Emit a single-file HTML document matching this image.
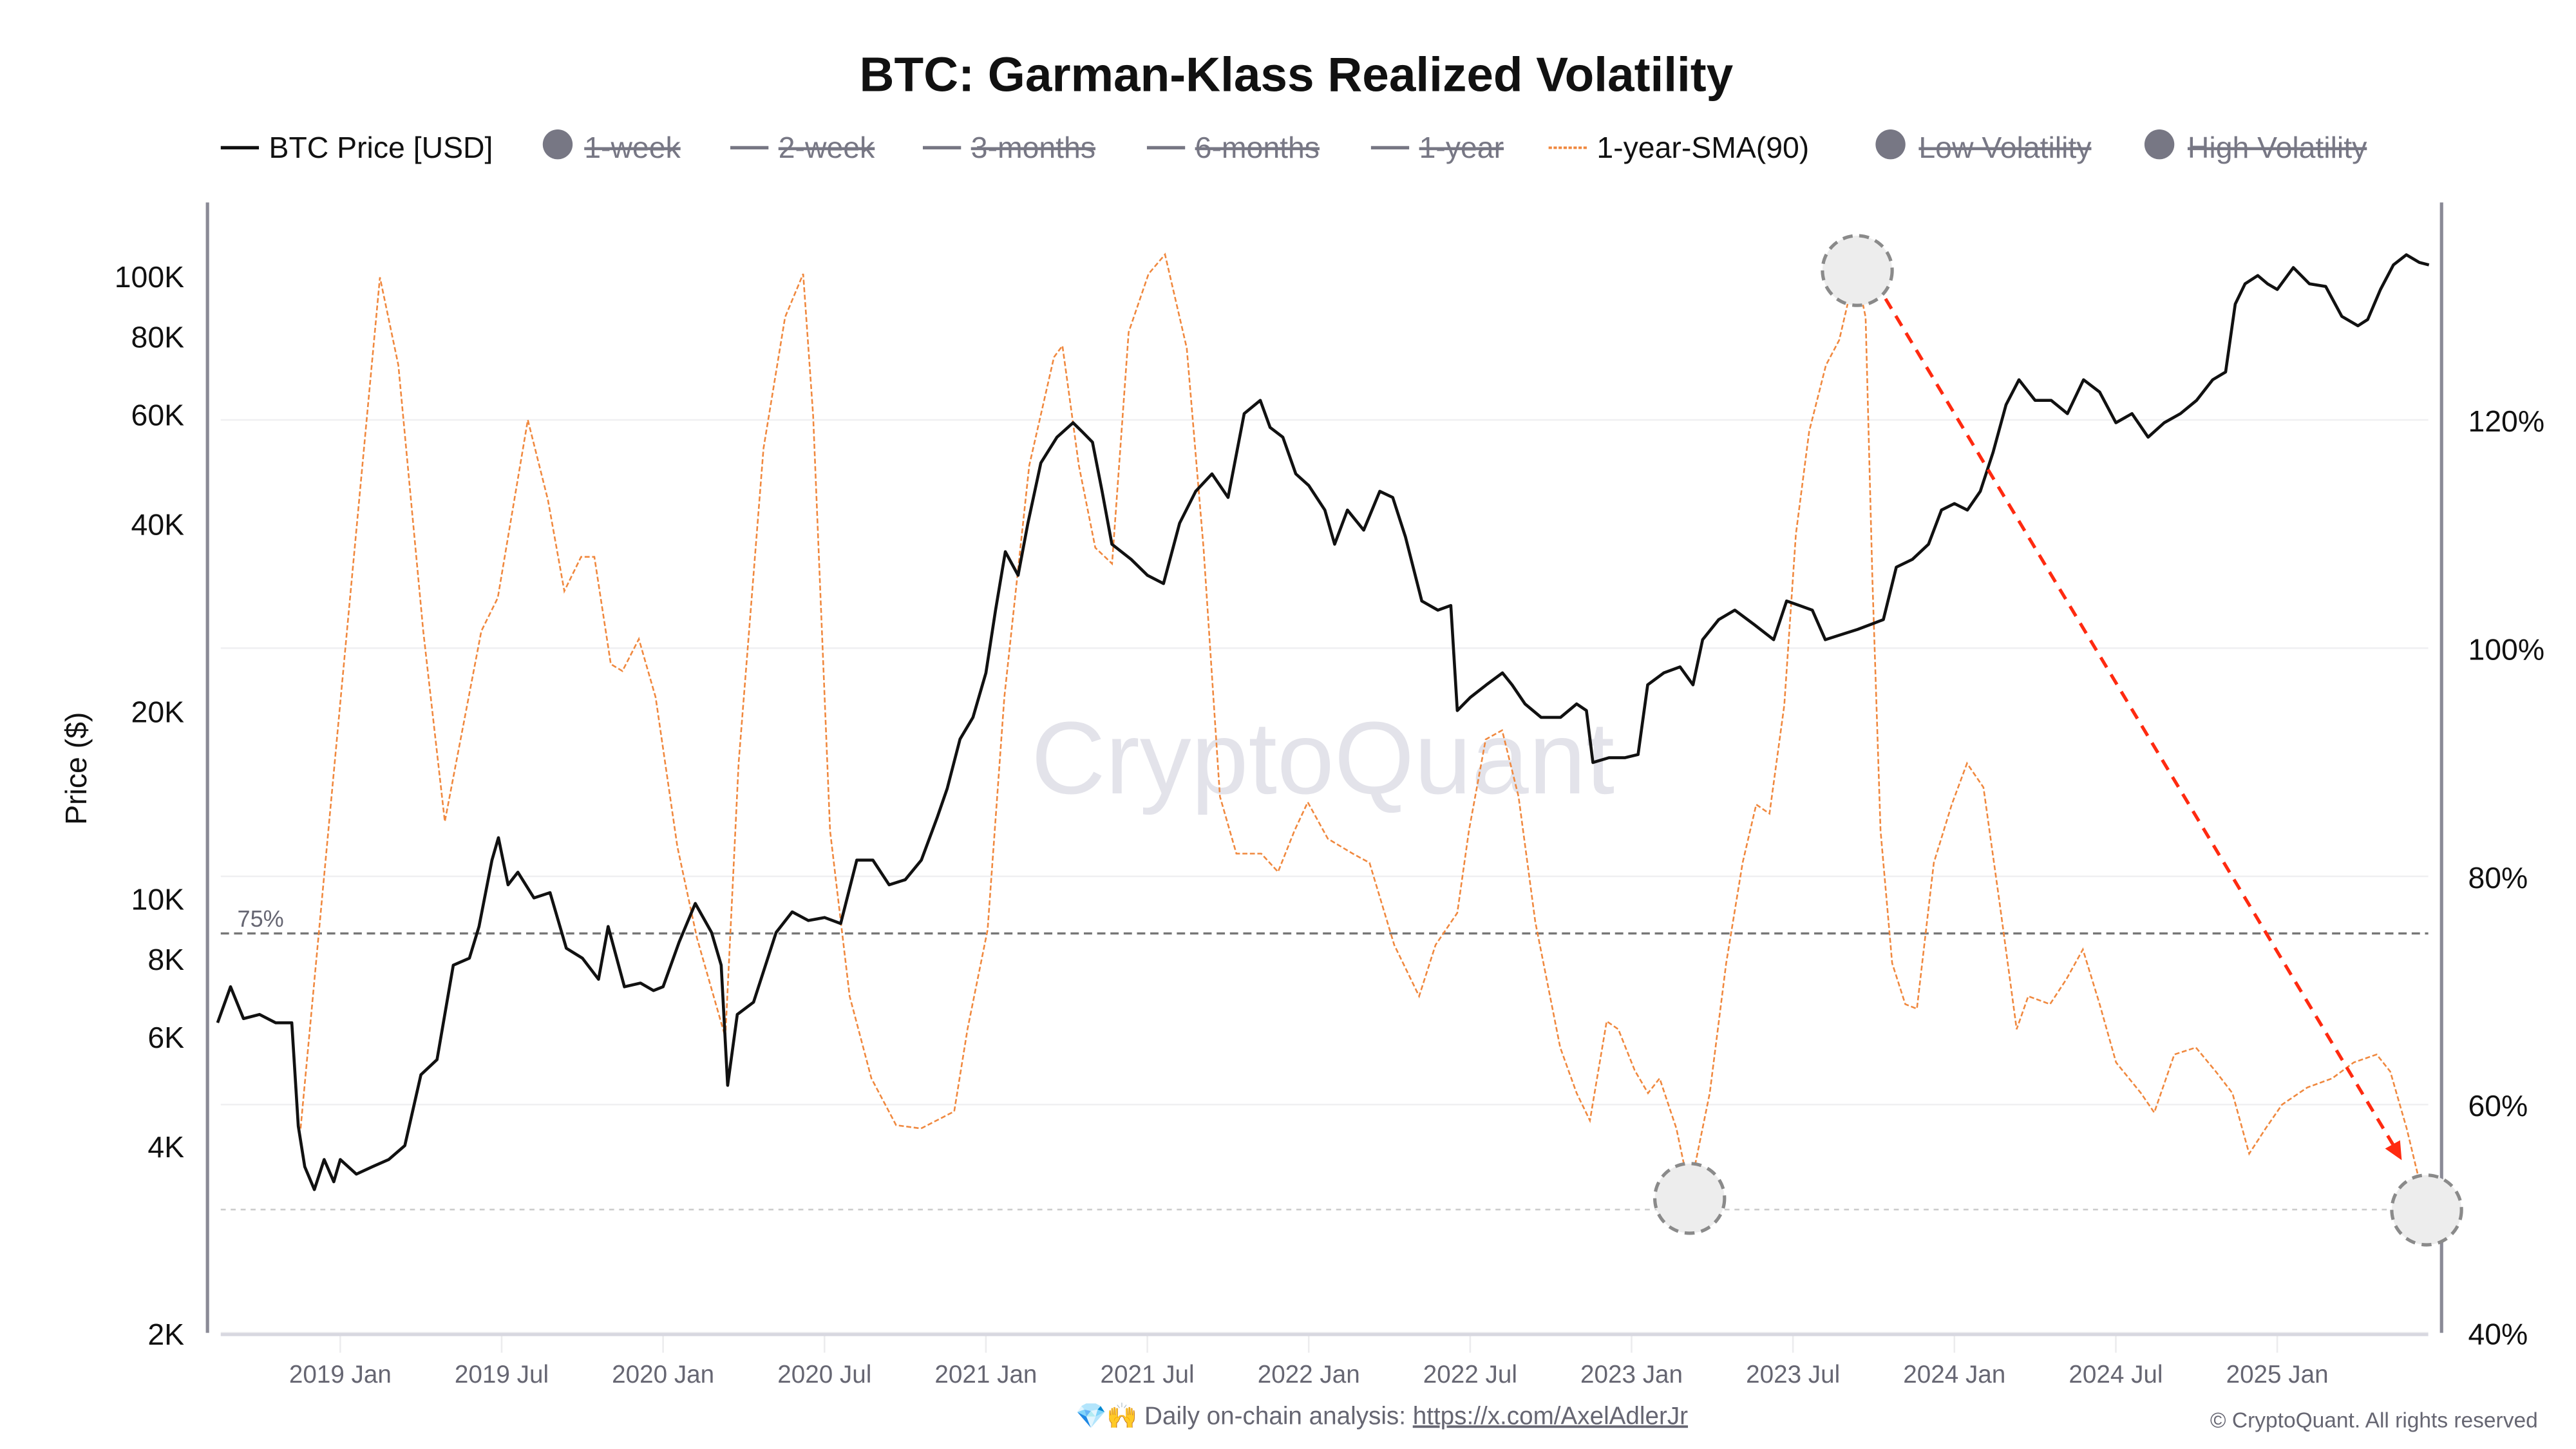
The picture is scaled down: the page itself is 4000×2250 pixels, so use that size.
<!DOCTYPE html>
<html><head><meta charset="utf-8"><style>
html,body{margin:0;padding:0;background:#fff}
svg{display:block}
text{font-family:"Liberation Sans","Noto Sans CJK SC",sans-serif}
</style></head><body>
<svg id="chart" width="4000" height="2250" viewBox="0 0 1552 873" xmlns="http://www.w3.org/2000/svg">
<rect width="1552" height="873" fill="#fff"/>
<text x="781" y="55" text-anchor="middle" font-size="29" font-weight="bold" fill="#111">BTC: Garman-Klass Realized Volatility</text>
<g id="legend" font-size="18">
  <g><line x1="133" y1="89" x2="156" y2="89" stroke="#111" stroke-width="2"/><text x="162" y="95" fill="#111">BTC Price [USD]</text></g>
  <g><circle cx="336" cy="87" r="9" fill="#777784"/><text x="352" y="95" fill="#777784" text-decoration="line-through">1-week</text></g>
  <g><line x1="440" y1="89" x2="463" y2="89" stroke="#777784" stroke-width="2"/><text x="469" y="95" fill="#777784" text-decoration="line-through">2-week</text></g>
  <g><line x1="556" y1="89" x2="579" y2="89" stroke="#777784" stroke-width="2"/><text x="585" y="95" fill="#777784" text-decoration="line-through">3-months</text></g>
  <g><line x1="691" y1="89" x2="714" y2="89" stroke="#777784" stroke-width="2"/><text x="720" y="95" fill="#777784" text-decoration="line-through">6-months</text></g>
  <g><line x1="826" y1="89" x2="849" y2="89" stroke="#777784" stroke-width="2"/><text x="855" y="95" fill="#777784" text-decoration="line-through">1-year</text></g>
  <g><line x1="933" y1="89" x2="956" y2="89" stroke="#f0883e" stroke-width="1.5" stroke-dasharray="2,1"/><text x="962" y="95" fill="#111">1-year-SMA(90)</text></g>
  <g><circle cx="1139" cy="87" r="9" fill="#777784"/><text x="1156" y="95" fill="#777784" text-decoration="line-through">Low Volatility</text></g>
  <g><circle cx="1301" cy="87" r="9" fill="#777784"/><text x="1318" y="95" fill="#777784" text-decoration="line-through">High Volatility</text></g>
</g>
<g id="grid"></g>
<text x="797" y="478" text-anchor="middle" font-size="62" fill="#e3e3ea">CryptoQuant</text>
<g id="axes"></g>
<g id="series"></g>
<g id="annotations">
  <circle cx="1119" cy="163" r="21" fill="#ededed" stroke="#8a8a8a" stroke-width="2" stroke-dasharray="6,4"/>
  <circle cx="1018" cy="722" r="21" fill="#ededed" stroke="#8a8a8a" stroke-width="2" stroke-dasharray="6,4"/>
  <circle cx="1462" cy="729" r="21" fill="#ededed" stroke="#8a8a8a" stroke-width="2" stroke-dasharray="6,4"/>
  <line x1="1136" y1="180" x2="1442" y2="690" stroke="#ff2a10" stroke-width="2" stroke-dasharray="7,5"/>
  <polygon points="1447,699 1437,692 1446,687" fill="#ff2a10"/>
</g>
<text transform="translate(52,463) rotate(-90)" text-anchor="middle" font-size="18" fill="#111">Price ($)</text>
<text x="648" y="858" font-size="15" fill="#666672">💎🙌 Daily on-chain analysis: <tspan text-decoration="underline">https://x.com/AxelAdlerJr</tspan></text>
<text x="1529" y="860" text-anchor="end" font-size="13" fill="#666672">© CryptoQuant. All rights reserved</text>
</svg>
<script>
const priceT=[2018.62,2018.66,2018.70,2018.75,2018.80,2018.85,2018.87,2018.89,2018.92,2018.95,2018.98,2019.0,2019.05,2019.1,2019.15,2019.2,2019.25,2019.3,2019.35,2019.4,2019.43,2019.47,2019.49,2019.52,2019.55,2019.6,2019.65,2019.7,2019.75,2019.8,2019.83,2019.88,2019.93,2019.97,2020.0,2020.05,2020.1,2020.15,2020.18,2020.2,2020.23,2020.28,2020.35,2020.4,2020.45,2020.5,2020.55,2020.6,2020.65,2020.7,2020.75,2020.8,2020.85,2020.88,2020.92,2020.96,2021.0,2021.03,2021.06,2021.1,2021.13,2021.17,2021.22,2021.27,2021.3,2021.33,2021.36,2021.39,2021.45,2021.5,2021.55,2021.6,2021.65,2021.7,2021.75,2021.8,2021.85,2021.88,2021.92,2021.96,2022.0,2022.05,2022.08,2022.12,2022.17,2022.22,2022.26,2022.3,2022.35,2022.4,2022.44,2022.46,2022.5,2022.55,2022.6,2022.63,2022.67,2022.72,2022.78,2022.83,2022.86,2022.88,2022.93,2022.98,2023.02,2023.05,2023.1,2023.15,2023.19,2023.22,2023.27,2023.32,2023.38,2023.44,2023.48,2023.52,2023.56,2023.6,2023.65,2023.7,2023.74,2023.78,2023.82,2023.87,2023.92,2023.96,2024.0,2024.04,2024.08,2024.12,2024.16,2024.2,2024.25,2024.3,2024.35,2024.4,2024.45,2024.5,2024.55,2024.6,2024.65,2024.7,2024.75,2024.8,2024.84,2024.87,2024.9,2024.94,2024.97,2025.0,2025.05,2025.1,2025.15,2025.2,2025.25,2025.28,2025.32,2025.36,2025.4,2025.44,2025.47];
const priceV=[6300,7200,6400,6500,6300,6300,4300,3700,3400,3800,3500,3800,3600,3700,3800,4000,5200,5500,7800,8000,9000,11500,12500,10500,11000,10000,10200,8300,8000,7400,9000,7200,7300,7100,7200,8500,9800,8800,7800,5000,6500,6800,8800,9500,9200,9300,9100,11500,11500,10500,10700,11500,13500,15000,18000,19500,23000,29000,36000,33000,40000,50000,55000,58000,56000,54000,45000,37000,35000,33000,32000,40000,45000,48000,44000,60000,63000,57000,55000,48000,46000,42000,37000,42000,39000,45000,44000,38000,30000,29000,29500,20000,21000,22000,23000,22000,20500,19500,19500,20500,20000,16500,16800,16800,17000,22000,23000,23500,22000,26000,28000,29000,27500,26000,30000,29500,29000,26000,26500,27000,27500,28000,34000,35000,37000,42000,43000,42000,45000,52000,62000,68000,63000,63000,60000,68000,65000,58000,60000,55000,58000,60000,63000,68000,70000,90000,97000,100000,97000,95000,103000,97000,96000,86000,83000,85000,95000,104000,108000,105000,104000];
const volT=[2018.877,2019.123,2019.180,2019.257,2019.324,2019.437,2019.488,2019.581,2019.643,2019.694,2019.746,2019.787,2019.838,2019.874,2019.925,2019.977,2020.044,2020.105,2020.193,2020.234,2020.311,2020.378,2020.434,2020.465,2020.517,2020.578,2020.645,2020.722,2020.799,2020.902,2020.943,2021.005,2021.057,2021.134,2021.211,2021.237,2021.288,2021.339,2021.391,2021.442,2021.504,2021.555,2021.622,2021.674,2021.725,2021.776,2021.853,2021.905,2021.956,2021.997,2022.059,2022.136,2022.188,2022.265,2022.342,2022.393,2022.460,2022.496,2022.548,2022.599,2022.650,2022.702,2022.779,2022.830,2022.871,2022.923,2022.959,2023.010,2023.051,2023.087,2023.139,2023.180,2023.242,2023.293,2023.344,2023.386,2023.427,2023.473,2023.509,2023.550,2023.602,2023.643,2023.694,2023.725,2023.746,2023.771,2023.807,2023.848,2023.884,2023.936,2023.992,2024.039,2024.090,2024.141,2024.193,2024.229,2024.296,2024.347,2024.398,2024.450,2024.501,2024.578,2024.619,2024.681,2024.748,2024.810,2024.861,2024.913,2024.964,2025.015,2025.093,2025.170,2025.237,2025.308,2025.350,2025.401,2025.463];
const volV=[57.9,132.5,124.8,101.5,84.8,101.5,104.4,120,113,105,108,108,98.6,98,100.8,95.7,82.6,74.6,65.9,89.9,117.5,129,132.8,120.4,84,69.5,62.3,58.2,57.9,59.4,66.6,75.3,95.7,116,125.5,126.5,116,108.8,107.4,127.7,132.8,134.5,126.3,108.8,87,82,82,80.4,84,86.5,83.3,82,81.2,74,69.5,74,76.8,84,92,92.8,87,76,65,61,58.6,67.3,66.6,63,61,62.3,57.9,52.4,61,72.4,81.2,86.3,85.5,95,110,119,124.8,127,133.2,129,106,84,72.4,68.8,68.4,81.2,86.3,89.9,87.8,77.5,66.6,69.5,68.8,71,73.6,68.8,63.7,61,59.3,64.4,65,62.9,61,55.7,57.9,60,61.5,62.3,63.7,64.4,62.9,57.9,50.6];
const priceTicks=[100000,80000,60000,40000,20000,10000,8000,6000,4000,2000];
const priceTickLabels=["100K","80K","60K","40K","20K","10K","8K","6K","4K","2K"];
const volTicks=[120,100,80,60,40];
const volTickLabels=["120%","100%","80%","60%","40%"];
const xTicks=[2019,2019.5,2020,2020.5,2021,2021.5,2022,2022.5,2023,2023.5,2024,2024.5,2025];
const xTickLabels=["2019 Jan","2019 Jul","2020 Jan","2020 Jul","2021 Jan","2021 Jul","2022 Jan","2022 Jul","2023 Jan","2023 Jul","2024 Jan","2024 Jul","2025 Jan"];
const refLevels=[75,50.8];
const refLabels=["75%",""];

const NS="http://www.w3.org/2000/svg";
const X0=133,X1=1463,Y0=122,Y1=803;
function xs(t){return 205+(t-2019)*194.5;}
function yPrice(p){return 541-375*(Math.log10(p)-4);}
function yVol(v){return 803-(v-40)*6.875;}
function mk(tag,attrs,parent){const e=document.createElementNS(NS,tag);for(const k in attrs)e.setAttribute(k,attrs[k]);parent.appendChild(e);return e;}
const grid=document.getElementById('grid'),axes=document.getElementById('axes'),series=document.getElementById('series');

volTicks.forEach((v,i)=>{
  const g=mk('line',{x1:X0,x2:X1,y1:yVol(v),y2:yVol(v),stroke:'#f0f0f2','stroke-width':1},grid);
  
  
  const t=mk('text',{x:1487,y:yVol(v)+7,'font-size':18,fill:'#111'},axes);
  t.textContent=volTickLabels[i];
  
  
});
priceTicks.forEach((p,i)=>{
  const t=mk('text',{x:111,y:yPrice(p)+7,'font-size':18,fill:'#111','text-anchor':'end'},axes);
  t.textContent=priceTickLabels[i];
  
  
});
xTicks.forEach((tv,i)=>{
  const l=mk('line',{x1:xs(tv),x2:xs(tv),y1:804,y2:815,stroke:'#ececee','stroke-width':1},grid);
  
  
  const t=mk('text',{x:xs(tv),y:833,'font-size':15,fill:'#666672','text-anchor':'middle'},axes);
  t.textContent=xTickLabels[i];
  
  
});
refLevels.forEach((v,i)=>{
  const l=mk('line',{x1:X0,x2:X1,y1:yVol(v),y2:yVol(v),stroke:i==0?'#777':'#ccc','stroke-width':i==0?1.3:1,'stroke-dasharray':i==0?'5,3':'3,3'},grid);
  
  
  if(refLabels[i]){const t=mk('text',{x:143,y:yVol(v)-4,'font-size':14,fill:'#666672'},grid);t.textContent=refLabels[i];
  
  }
});
const la=mk('line',{x1:125,x2:125,y1:Y0,y2:Y1,stroke:'#8a8a96','stroke-width':2},axes);


const ra=mk('line',{x1:1471,x2:1471,y1:Y0,y2:Y1,stroke:'#8a8a96','stroke-width':2},axes);


const ba=mk('line',{x1:X0,x2:X1,y1:804,y2:804,stroke:'#d8d8e0','stroke-width':2},axes);



const vp=mk('path',{d:volT.map((t,i)=>(i?'L':'M')+xs(t).toFixed(1)+','+yVol(volV[i]).toFixed(1)).join(''),fill:'none',stroke:'#f0883e','stroke-width':1,'stroke-dasharray':'3,1.5'},series);


const pp=mk('path',{d:priceT.map((t,i)=>(i?'L':'M')+xs(t).toFixed(1)+','+yPrice(priceV[i]).toFixed(1)).join(''),fill:'none',stroke:'#111','stroke-width':1.8,'stroke-linejoin':'round'},series);


</script>
</body></html>
